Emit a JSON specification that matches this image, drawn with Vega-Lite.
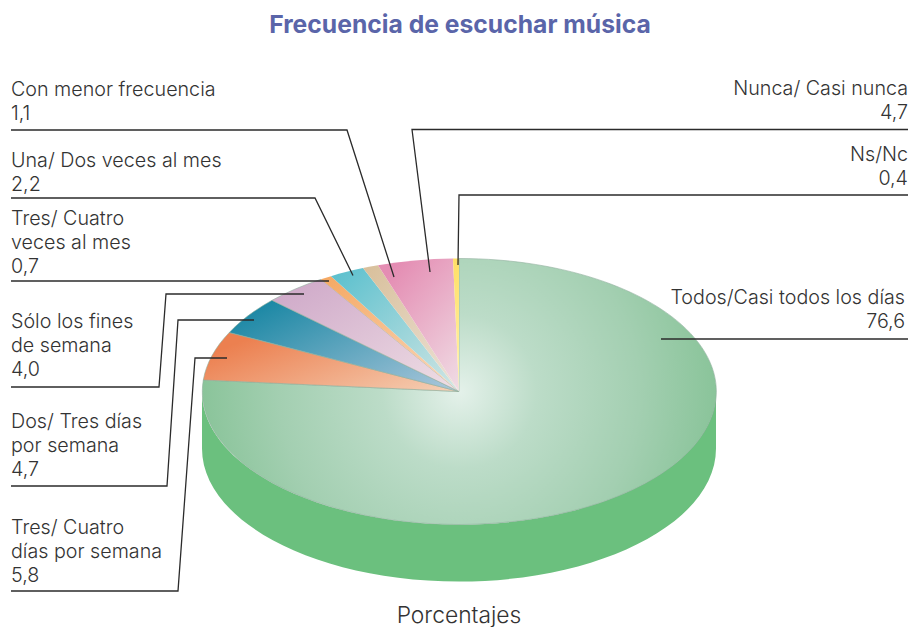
{
"$schema":"https://vega.github.io/schema/vega-lite/v6.json",
"width":912,"height":627,"padding":0,"autosize":"none","background":"white",
"title":{"text":"Frecuencia de escuchar música","anchor":"middle","orient":"top","offset":-38,"dx":4,"font":"Inter","fontSize":24.7,"fontWeight":700,"color":"#5a65a9"},
"config":{"view":{"stroke":null}},
"data":{"values":[
{"categoria":"Todos/Casi todos los días","valor":76.6,"etiqueta":"Todos/Casi todos los días\n76,6"},
{"categoria":"Tres/ Cuatro días por semana","valor":5.8,"etiqueta":"Tres/ Cuatro\ndías por semana\n5,8"},
{"categoria":"Dos/ Tres días por semana","valor":4.7,"etiqueta":"Dos/ Tres días\npor semana\n4,7"},
{"categoria":"Sólo los fines de semana","valor":4.0,"etiqueta":"Sólo los fines\nde semana\n4,0"},
{"categoria":"Tres/ Cuatro veces al mes","valor":0.7,"etiqueta":"Tres/ Cuatro\nveces al mes\n0,7"},
{"categoria":"Una/ Dos veces al mes","valor":2.2,"etiqueta":"Una/ Dos veces al mes\n2,2"},
{"categoria":"Con menor frecuencia","valor":1.1,"etiqueta":"Con menor frecuencia\n1,1"},
{"categoria":"Nunca/ Casi nunca","valor":4.7,"etiqueta":"Nunca/ Casi nunca\n4,7"},
{"categoria":"Ns/Nc","valor":0.4,"etiqueta":"Ns/Nc\n0,4"}
]},
"layer":[
{"transform":[{"filter":"datum.categoria === 'Todos/Casi todos los días'"}],
 "mark":{"type":"point","filled":true,"size":4,"fill":"#6bc07e","strokeWidth":0,"opacity":1,"shape":"M-257,0 A257,133 0 0 0 257,0 L257,57 A257,133 0 0 1 -257,57 Z"},
 "encoding":{"x":{"value":459},"y":{"value":391.5}}},
{"transform":[{"filter":"datum.categoria === 'Todos/Casi todos los días'"}],
 "mark":{"type":"point","filled":true,"size":4,"opacity":1,"stroke":"#8fae9c","strokeWidth":0.6,"shape":"M0,0 L0,-133 A257,133 0 1 1 -255.7,-11.5 Z",
 "fill":{"gradient":"radial","x1":0.5,"y1":0.5,"x2":0.5,"y2":0.5,"r1":0,"r2":0.5,"stops":[{"offset":0,"color":"#e4f1ea"},{"offset":0.3,"color":"#bcdcc8"},{"offset":0.7,"color":"#a3cfb1"},{"offset":1,"color":"#8ac49a"}]}},
 "encoding":{"x":{"value":459},"y":{"value":391.5}}},
{"transform":[{"filter":"datum.categoria === 'Tres/ Cuatro días por semana'"}],
 "mark":{"type":"point","filled":true,"size":4,"opacity":1,"stroke":"#8fae9c","strokeWidth":0.6,"shape":"M0,0 L-255.7,-11.5 A257,133 0 0 1 -229.7,-59 Z",
 "fill":{"gradient":"linear","x1":1,"y1":1,"x2":0,"y2":0.4,"stops":[{"offset":0,"color":"#f5d2b8"},{"offset":1,"color":"#ec8050"}]}},
 "encoding":{"x":{"value":459},"y":{"value":391.5}}},
{"transform":[{"filter":"datum.categoria === 'Dos/ Tres días por semana'"}],
 "mark":{"type":"point","filled":true,"size":4,"opacity":1,"stroke":"#8fae9c","strokeWidth":0.6,"shape":"M0,0 L-229.7,-59 A257,133 0 0 1 -187,-91.2 Z",
 "fill":{"gradient":"linear","x1":1,"y1":1,"x2":0,"y2":0.2,"stops":[{"offset":0,"color":"#aec8dc"},{"offset":1,"color":"#1a87a4"}]}},
 "encoding":{"x":{"value":459},"y":{"value":391.5}}},
{"transform":[{"filter":"datum.categoria === 'Sólo los fines de semana'"}],
 "mark":{"type":"point","filled":true,"size":4,"opacity":1,"stroke":"#8fae9c","strokeWidth":0.6,"shape":"M0,0 L-187,-91.2 A257,133 0 0 1 -138,-112.2 Z",
 "fill":{"gradient":"linear","x1":1,"y1":1,"x2":0,"y2":0,"stops":[{"offset":0,"color":"#efdfe5"},{"offset":1,"color":"#cda6c7"}]}},
 "encoding":{"x":{"value":459},"y":{"value":391.5}}},
{"transform":[{"filter":"datum.categoria === 'Tres/ Cuatro veces al mes'"}],
 "mark":{"type":"point","filled":true,"size":4,"opacity":1,"strokeWidth":0,"shape":"M0,0 L-138,-112.2 A257,133 0 0 1 -128,-115.3 Z",
 "fill":{"gradient":"linear","x1":1,"y1":1,"x2":0,"y2":0,"stops":[{"offset":0,"color":"#f9d8bd"},{"offset":1,"color":"#f5a862"}]}},
 "encoding":{"x":{"value":459},"y":{"value":391.5}}},
{"transform":[{"filter":"datum.categoria === 'Una/ Dos veces al mes'"}],
 "mark":{"type":"point","filled":true,"size":4,"opacity":1,"strokeWidth":0,"shape":"M0,0 L-128,-115.3 A257,133 0 0 1 -96,-123.4 Z",
 "fill":{"gradient":"linear","x1":1,"y1":1,"x2":0,"y2":0,"stops":[{"offset":0,"color":"#d3e6e4"},{"offset":1,"color":"#58bfcd"}]}},
 "encoding":{"x":{"value":459},"y":{"value":391.5}}},
{"transform":[{"filter":"datum.categoria === 'Con menor frecuencia'"}],
 "mark":{"type":"point","filled":true,"size":4,"opacity":1,"strokeWidth":0,"shape":"M0,0 L-96,-123.4 A257,133 0 0 1 -81,-126.2 Z",
 "fill":{"gradient":"linear","x1":1,"y1":1,"x2":0,"y2":0,"stops":[{"offset":0,"color":"#ece2d8"},{"offset":1,"color":"#d8bf9a"}]}},
 "encoding":{"x":{"value":459},"y":{"value":391.5}}},
{"transform":[{"filter":"datum.categoria === 'Nunca/ Casi nunca'"}],
 "mark":{"type":"point","filled":true,"size":4,"opacity":1,"strokeWidth":0,"shape":"M0,0 L-81,-126.2 A257,133 0 0 1 -6,-132.9 Z",
 "fill":{"gradient":"linear","x1":1,"y1":1,"x2":0.3,"y2":0,"stops":[{"offset":0,"color":"#f0dde5"},{"offset":1,"color":"#e48db3"}]}},
 "encoding":{"x":{"value":459},"y":{"value":391.5}}},
{"transform":[{"filter":"datum.categoria === 'Ns/Nc'"}],
 "mark":{"type":"point","filled":true,"size":4,"opacity":1,"strokeWidth":0,"shape":"M0,0 L-6,-132.9 A257,133 0 0 1 0,-133 Z",
 "fill":{"gradient":"linear","x1":0.5,"y1":1,"x2":0.5,"y2":0,"stops":[{"offset":0,"color":"#fff3b0"},{"offset":1,"color":"#ffdf66"}]}},
 "encoding":{"x":{"value":459},"y":{"value":391.5}}},
{"mark":{"type":"point","filled":false,"size":4,"opacity":1,"stroke":"#2b2b2b","strokeWidth":1.3},
 "encoding":{"x":{"value":459},"y":{"value":391.5},
 "shape":{"field":"categoria","legend":null,"scale":{"domain":["Todos/Casi todos los días","Tres/ Cuatro días por semana","Dos/ Tres días por semana","Sólo los fines de semana","Tres/ Cuatro veces al mes","Una/ Dos veces al mes","Con menor frecuencia","Nunca/ Casi nunca","Ns/Nc"],
 "range":[
 "M202,-52.5 L449,-52.5",
 "M-448,199.5 L-281,199.5 L-264,-33.5 L-232,-33.5",
 "M-448,94.5 L-292,94.5 L-281,-71.5 L-205,-71.5",
 "M-448,-4.5 L-300,-4.5 L-293,-97.5 L-155,-97.5",
 "M-448,-110.5 L-130,-110.5",
 "M-448,-193.5 L-144,-193.5 L-106,-116",
 "M-448,-261.5 L-112,-261.5 L-65,-114.5",
 "M449,-262 L-47,-262 L-29,-119.5",
 "M449,-196.5 L0,-196.5 L-1,-126.5"]}}}},
{"transform":[{"filter":"datum.categoria === 'Con menor frecuencia'"}],
 "mark":{"type":"text","align":"left","baseline":"alphabetic","lineBreak":"\n","lineHeight":24,"font":"Inter","fontSize":19.7,"fontWeight":300,"color":"#333333"},
 "encoding":{"text":{"field":"etiqueta"},"x":{"value":11},"y":{"value":96}}},
{"transform":[{"filter":"datum.categoria === 'Una/ Dos veces al mes'"}],
 "mark":{"type":"text","align":"left","baseline":"alphabetic","lineBreak":"\n","lineHeight":24,"font":"Inter","fontSize":19.7,"fontWeight":300,"color":"#333333"},
 "encoding":{"text":{"field":"etiqueta"},"x":{"value":11},"y":{"value":167}}},
{"transform":[{"filter":"datum.categoria === 'Tres/ Cuatro veces al mes'"}],
 "mark":{"type":"text","align":"left","baseline":"alphabetic","lineBreak":"\n","lineHeight":24,"font":"Inter","fontSize":19.7,"fontWeight":300,"color":"#333333"},
 "encoding":{"text":{"field":"etiqueta"},"x":{"value":11},"y":{"value":225}}},
{"transform":[{"filter":"datum.categoria === 'Sólo los fines de semana'"}],
 "mark":{"type":"text","align":"left","baseline":"alphabetic","lineBreak":"\n","lineHeight":24,"font":"Inter","fontSize":19.7,"fontWeight":300,"color":"#333333"},
 "encoding":{"text":{"field":"etiqueta"},"x":{"value":11},"y":{"value":328}}},
{"transform":[{"filter":"datum.categoria === 'Dos/ Tres días por semana'"}],
 "mark":{"type":"text","align":"left","baseline":"alphabetic","lineBreak":"\n","lineHeight":24,"font":"Inter","fontSize":19.7,"fontWeight":300,"color":"#333333"},
 "encoding":{"text":{"field":"etiqueta"},"x":{"value":11},"y":{"value":428}}},
{"transform":[{"filter":"datum.categoria === 'Tres/ Cuatro días por semana'"}],
 "mark":{"type":"text","align":"left","baseline":"alphabetic","lineBreak":"\n","lineHeight":24,"font":"Inter","fontSize":19.7,"fontWeight":300,"color":"#333333"},
 "encoding":{"text":{"field":"etiqueta"},"x":{"value":11},"y":{"value":534}}},
{"transform":[{"filter":"datum.categoria === 'Nunca/ Casi nunca'"}],
 "mark":{"type":"text","align":"right","baseline":"alphabetic","lineBreak":"\n","lineHeight":24,"font":"Inter","fontSize":19.7,"fontWeight":300,"color":"#333333"},
 "encoding":{"text":{"field":"etiqueta"},"x":{"value":908},"y":{"value":95}}},
{"transform":[{"filter":"datum.categoria === 'Ns/Nc'"}],
 "mark":{"type":"text","align":"right","baseline":"alphabetic","lineBreak":"\n","lineHeight":24,"font":"Inter","fontSize":19.7,"fontWeight":300,"color":"#333333"},
 "encoding":{"text":{"field":"etiqueta"},"x":{"value":908},"y":{"value":161}}},
{"transform":[{"filter":"datum.categoria === 'Todos/Casi todos los días'"}],
 "mark":{"type":"text","align":"right","baseline":"alphabetic","lineBreak":"\n","lineHeight":24,"font":"Inter","fontSize":19.7,"fontWeight":300,"color":"#333333"},
 "encoding":{"text":{"field":"etiqueta"},"x":{"value":905},"y":{"value":304}}},
{"transform":[{"filter":"datum.categoria === 'Todos/Casi todos los días'"}],
 "mark":{"type":"text","align":"center","baseline":"alphabetic","font":"Inter","fontSize":22.8,"fontWeight":300,"color":"#333333"},
 "encoding":{"text":{"value":"Porcentajes"},"x":{"value":459},"y":{"value":623}}}
]}
